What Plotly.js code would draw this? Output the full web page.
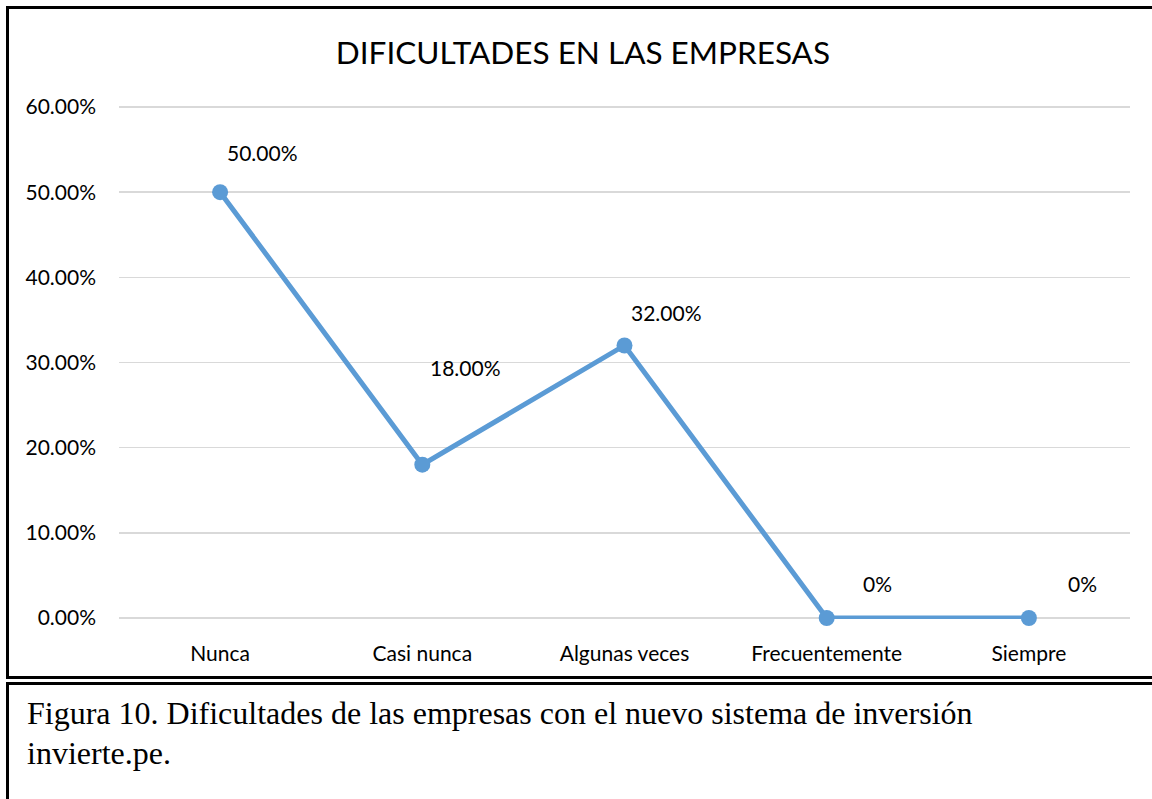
<!DOCTYPE html>
<html>
<head>
<meta charset="utf-8">
<script src="https://cdn.plot.ly/plotly-3.0.1.min.js"></script>
<style>
  html, body { margin: 0; padding: 0; background: #fff; width: 1152px; height: 799px; overflow: hidden; }
  #box1 { position: absolute; left: 6px; top: 6px; width: 1160px; height: 673px; border: 3px solid #000; box-sizing: border-box; }
  #box2 { position: absolute; left: 6px; top: 682px; width: 1160px; height: 140px; border: 3px solid #000; box-sizing: border-box; }
  #chart { position: absolute; left: 0; top: 0; width: 1152px; height: 676px; }
  #caption { position: absolute; left: 27px; top: 693px; font-family: "Liberation Serif", "Times New Roman", serif; font-size: 32px; line-height: 40px; color: #000; white-space: nowrap; }
</style>
</head>
<body>
<div id="box1"></div>
<div id="box2"></div>
<div id="chart"></div>
<div id="caption">Figura 10. Dificultades de las empresas con el nuevo sistema de inversión<br>invierte.pe.</div>
<script>
const categories = ["Nunca", "Casi nunca", "Algunas veces", "Frecuentemente", "Siempre"];
const values = [0.50, 0.18, 0.32, 0, 0];
const valueLabels = ["50.00%", "18.00%", "32.00%", "0%", "0%"];
const tickValues = [0, 0.1, 0.2, 0.3, 0.4, 0.5, 0.6];
const tickLabels = ["0.00%", "10.00%", "20.00%", "30.00%", "40.00%", "50.00%", "60.00%"];

const labelShift = [[42, 40], [43, 97], [42, 33], [51, 34], [54, 34]];
const FONT = 'Lato, "Open Sans", sans-serif';

const annotations = categories.map((c, i) => ({
  x: c, y: values[i], xref: 'x', yref: 'y',
  text: valueLabels[i], showarrow: false,
  xshift: labelShift[i][0], yshift: labelShift[i][1],
  font: { family: FONT, size: 21, color: '#000' }
}));

const trace = {
  x: categories, y: values, type: 'scatter', mode: 'lines+markers',
  line: { color: '#5B9BD5', width: 5 },
  marker: { color: '#5B9BD5', size: 16 },
  hoverinfo: 'skip', cliponaxis: false
};

const layout = {
  width: 1152, height: 676,
  margin: { l: 119, r: 22, t: 106, b: 57 },
  paper_bgcolor: 'rgba(0,0,0,0)', plot_bgcolor: 'rgba(0,0,0,0)',
  showlegend: false,
  title: { text: 'DIFICULTADES EN LAS EMPRESAS', x: 0.506, xanchor: 'center', y: 0.922, yanchor: 'middle',
           font: { family: FONT, size: 31.5, color: '#000' } },
  xaxis: { type: 'category', range: [-0.5, 4.5], showgrid: false, zeroline: false, showline: false,
           ticks: '', ticklabelstandoff: 20, tickfont: { family: FONT, size: 21, color: '#000' } },
  yaxis: { range: [-0.0012, 0.6012], tickvals: tickValues, ticktext: tickLabels, showgrid: true,
           gridcolor: '#D9D9D9', gridwidth: 1.5, zeroline: false, showline: false, ticks: '',
           ticklabelstandoff: 22,
           tickfont: { family: FONT, size: 21, color: '#000' } },
  annotations: annotations
};

Plotly.newPlot('chart', [trace], layout, { staticPlot: true, displayModeBar: false });
</script>
</body>
</html>
